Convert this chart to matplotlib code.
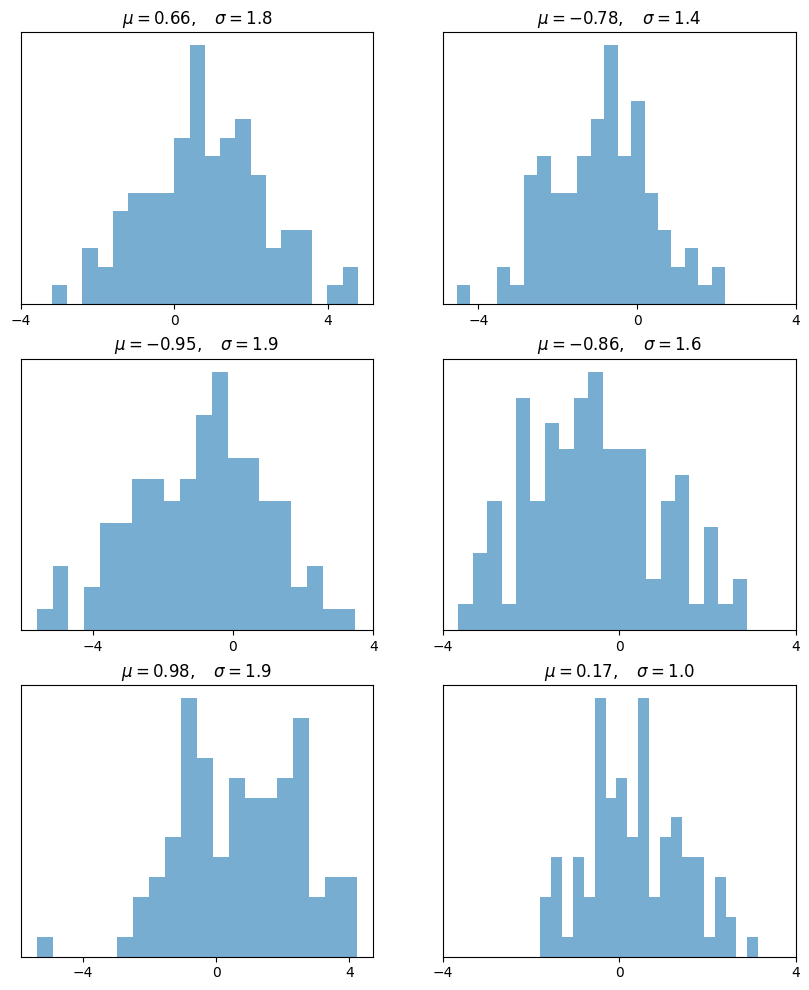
import numpy as np
import matplotlib
matplotlib.use("Agg")
import matplotlib.pyplot as plt

# histogram data: (data min, data max, 20 bin counts)
titles = [r'$\mu=0.66,\quad\sigma=1.8$', r'$\mu=-0.78,\quad\sigma=1.4$',
          r'$\mu=-0.95,\quad\sigma=1.9$', r'$\mu=-0.86,\quad\sigma=1.6$',
          r'$\mu=0.98,\quad\sigma=1.9$', r'$\mu=0.17,\quad\sigma=1.0$']
lows = [-3.19, -4.55, -5.60, -3.66, -5.39, -1.80]
highs = [4.79, 2.22, 3.48, 2.90, 4.24, 3.15]
counts1 = [1, 0, 3, 2, 5, 6, 6, 6, 9, 14, 8, 9, 10, 7, 3, 4, 4, 0, 1, 2]
counts2 = [1, 0, 0, 2, 1, 7, 8, 6, 6, 8, 10, 14, 8, 11, 6, 4, 2, 3, 1, 2]
counts3 = [1, 3, 0, 2, 5, 5, 7, 7, 6, 7, 10, 12, 8, 8, 6, 6, 2, 3, 1, 1]
counts4 = [1, 3, 5, 1, 9, 5, 8, 7, 9, 10, 7, 7, 7, 2, 5, 6, 1, 4, 1, 2]
counts5 = [1, 0, 0, 0, 0, 1, 3, 4, 6, 13, 10, 5, 9, 8, 8, 9, 12, 3, 4, 4]
counts6 = [3, 5, 1, 5, 3, 13, 8, 9, 6, 13, 3, 6, 7, 5, 5, 1, 4, 2, 0, 1]
all_counts = [counts1, counts2, counts3, counts4, counts5, counts6]
xticks = [-4, 0, 4]

fig, axes = plt.subplots(3, 2, figsize=(8.09, 9.9), dpi=100)
fig.subplots_adjust(left=0.0256, right=0.9836, bottom=0.0336, top=0.9674,
                    wspace=0.1985, hspace=0.202)

for ax, title, lo, hi, counts in zip(axes.flat, titles, lows, highs, all_counts):
    edges = np.linspace(lo, hi, len(counts) + 1)
    centers = (edges[:-1] + edges[1:]) / 2
    ax.hist(centers, bins=edges, weights=counts, color='tab:blue', alpha=0.6)
    ax.set_title(title, fontsize=12)
    ax.set_yticks([])
    ax.set_xticks(xticks)

fig.savefig("out.png", dpi=100)
